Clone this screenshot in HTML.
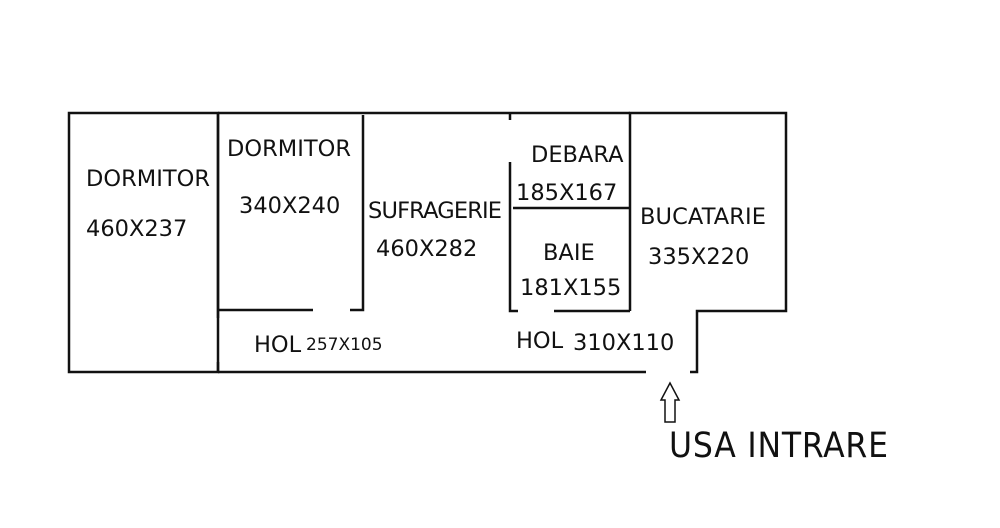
<!DOCTYPE html>
<html><head><style>
body{margin:0;background:#fff;}
svg text{font-family:"DejaVu Sans","Liberation Sans",sans-serif;fill:#111;}
</style></head><body>
<svg width="1000" height="523" viewBox="0 0 1000 523" xmlns="http://www.w3.org/2000/svg">
<g stroke="#111" fill="none" stroke-width="2.5">
<rect x="69" y="113" width="149" height="259"/>
<path d="M218 113 H630"/>
<path d="M218 113 V318 M218 362 V372"/>
<path d="M218 310 H313 M350 310 H363 V115"/>
<path d="M218 372 H646 M690 372 H697 V311 H786 V113 H630 V311"/>
<path d="M510 113 V120 M510 162 V311 H518 M554 311 H630"/>
<path d="M513 208 H630"/>
<path d="M665 422 V400 H661 L670 383 L679 400 H675 V422 Z" stroke-width="1.5"/>
</g>
<g font-size="22.5">
<text x="86" y="186" textLength="124">DORMITOR</text>
<text x="86" y="236">460X237</text>
<text x="227" y="156" textLength="124">DORMITOR</text>
<text x="239" y="213">340X240</text>
<text x="368" y="218" textLength="134">SUFRAGERIE</text>
<text x="376" y="256">460X282</text>
<text x="531" y="162">DEBARA</text>
<text x="516" y="200">185X167</text>
<text x="543" y="260">BAIE</text>
<text x="520" y="295">181X155</text>
<text x="640" y="224" textLength="126">BUCATARIE</text>
<text x="648" y="264">335X220</text>
<text x="254" y="352">HOL</text>
<text x="306" y="350" font-size="17">257X105</text>
<text x="516" y="348">HOL</text>
<text x="573" y="350">310X110</text>
</g>
<text x="669" y="457" font-size="35" textLength="219" style="font-family:'DejaVu Sans Condensed','Liberation Sans Narrow','Liberation Sans',sans-serif">USA INTRARE</text>
</svg>
</body></html>
